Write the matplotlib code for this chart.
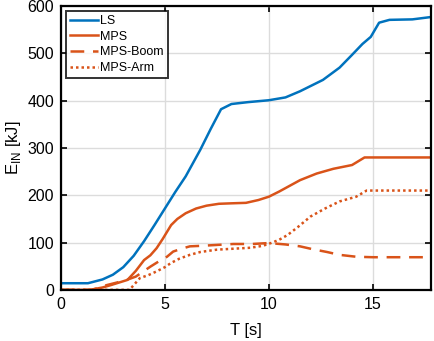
import matplotlib
matplotlib.use("Agg")
import matplotlib.pyplot as plt

plt.rcParams['font.family'] = ['Liberation Sans', 'DejaVu Sans']

# LS series
t_ls = [0, 0.6, 1.3, 2.0, 2.5, 3.0, 3.5, 4.0, 4.5, 5.0, 5.5, 6.0, 6.7, 7.2, 7.7, 8.2, 9.0, 10.0, 10.8, 11.5, 12.6, 13.4, 14.0, 14.5, 14.9, 15.3, 15.8, 16.9, 17.8]
e_ls = [14, 14, 14, 22, 32, 48, 72, 103, 137, 172, 207, 240, 296, 340, 382, 393, 397, 401, 407, 420, 444, 470, 497, 520, 535, 565, 571, 572, 577]

# MPS
t_mps = [0, 1.4, 2.0, 2.4, 3.2, 3.6, 4.0, 4.3, 4.6, 4.9, 5.3, 5.6, 6.0, 6.5, 7.0, 7.6, 8.2, 8.9, 9.5, 10.0, 10.5, 11.5, 12.3, 13.1, 14.0, 14.3, 14.6, 15.5, 17.8]
e_mps = [0, 0, 5, 10, 21, 40, 63, 73, 88, 108, 137, 150, 162, 172, 178, 182, 183, 184, 190, 197, 208, 232, 246, 256, 264, 272, 280, 280, 280]

# MPS-Boom
t_boom = [0, 1.5, 2.2, 3.1, 3.6, 4.0, 4.3, 4.7, 5.1, 5.4, 5.8, 6.2, 6.7, 7.5, 8.3, 9.2, 10.0, 10.8, 11.5, 12.1, 12.8, 13.4, 14.2, 15.0, 17.8]
e_boom = [0, 0, 10, 20, 28, 40, 49, 60, 70, 81, 87, 92, 93, 95, 97, 97, 99, 96, 92, 86, 80, 74, 70, 69, 69]

# MPS-Arm
t_arm = [0, 3.3, 3.8, 4.2, 4.6, 5.0, 5.3, 5.7, 6.2, 6.7, 7.5, 8.3, 9.1, 9.7, 10.1, 10.5, 10.9, 11.4, 12.0, 12.7, 13.4, 14.2, 14.7, 15.5, 17.8]
e_arm = [0, 0, 25, 31, 39, 48, 57, 66, 74, 80, 85, 87, 89, 93, 99, 106, 116, 133, 155, 172, 187, 197, 210, 210, 210]

blue = '#0072BD'
orange = '#D95319'

fig = plt.figure(figsize=(4.35, 3.41), dpi=100)
ax = fig.add_axes([0.140, 0.150, 0.851, 0.832])

ax.plot(t_ls, e_ls, color=blue, lw=1.8, label='LS')
ax.plot(t_mps, e_mps, color=orange, lw=1.8, label='MPS')
ax.plot(t_boom, e_boom, color=orange, lw=1.8, ls=(0, (5.5, 3.5)), label='MPS-Boom')
ax.plot(t_arm, e_arm, color=orange, lw=1.8, ls=(0, (1, 1.2)), label='MPS-Arm')

ax.set_xlim(0, 17.8)
ax.set_ylim(0, 600)
ax.set_xticks([0, 5, 10, 15])
ax.set_yticks([0, 100, 200, 300, 400, 500, 600])
ax.grid(True, color='#dcdcdc', lw=1.0)
ax.set_axisbelow(True)
ax.tick_params(direction='in', top=True, right=True, length=4, width=1.2, labelsize=11.5, pad=5)
for s in ax.spines.values():
    s.set_linewidth(1.6)
    s.set_color('black')

ax.set_xlabel('T [s]', fontsize=12, labelpad=8)
ax.set_ylabel(r'E$_{\mathregular{IN}}$ [kJ]', fontsize=12, labelpad=3)

leg = ax.legend(loc='upper left', fontsize=9, frameon=True, fancybox=False,
                edgecolor='black', handlelength=2.3, handletextpad=0.15,
                borderpad=0.3, labelspacing=0.3, borderaxespad=0.4)
leg.get_frame().set_linewidth(1.4)

fig.savefig('out.png', dpi=100)
